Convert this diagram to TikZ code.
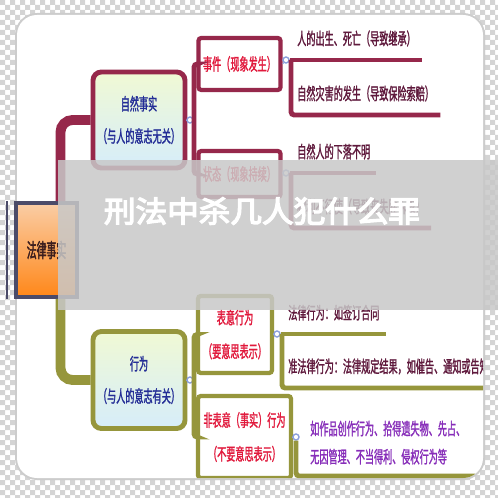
\documentclass[tikz,border=0pt]{standalone}
\usepackage{fontspec}
\newfontfamily\cjk[FakeStretch=0.54,FakeBold=1.3]{Noto Sans CJK SC}
\newfontfamily\cjkroot[FakeStretch=0.5,FakeBold=2]{Noto Sans CJK SC}
\newfontfamily\wmfont[FakeStretch=1.07,FakeBold=4.5]{Noto Sans CJK SC}
\definecolor{natred}{RGB}{150,40,75}
\definecolor{actolive}{RGB}{150,150,60}
\definecolor{boxblue}{RGB}{35,45,150}
\definecolor{boxred}{RGB}{225,25,60}
\definecolor{boxtop}{RGB}{240,249,212}
\definecolor{boxbottom}{RGB}{214,237,250}
\definecolor{leafred}{RGB}{95,25,60}
\definecolor{leafpurple}{RGB}{135,45,185}
\definecolor{hubblue}{RGB}{140,160,220}
\definecolor{rootline}{RGB}{75,75,105}
\definecolor{rootpeach}{RGB}{250,205,165}
\definecolor{rootorange}{RGB}{255,135,25}
\definecolor{roottext}{RGB}{60,30,30}
\definecolor{checkgray}{RGB}{212,212,212}
\definecolor{bandgray}{RGB}{200,200,200}

\tikzset{
  rootbox/.style={draw=rootline, line width=2.5pt, top color=rootpeach, bottom color=rootorange,
    minimum width=1.525cm, minimum height=2.35cm, text=roottext,
    font=\cjkroot\fontsize{14pt}{14pt}\selectfont},
  mainbox/.style={draw=#1, line width=3.5pt, rounded corners=6pt, top color=boxtop, bottom color=boxbottom,
    minimum width=2.3cm, minimum height=2.4cm, align=center, text=boxblue,
    font=\cjk\fontsize{12pt}{23pt}\selectfont},
  subbox/.style={draw=#1, line width=3pt, rounded corners=2pt, fill=white, align=center,
    inner sep=1pt, text=boxred, font=\cjk\fontsize{12pt}{24pt}\selectfont},
  leaf/.style={anchor=south west, inner xsep=0.15cm, inner ysep=0.33cm, text=leafred,
    font=\cjk\fontsize{12pt}{20pt}\selectfont},
  hub/.style={circle, draw=hubblue, fill=white, line width=1pt, inner sep=0pt, minimum size=0.15cm},
  trunk/.style={draw=#1, line width=7pt, rounded corners=0.3cm},
  leafbar/.style={draw=#1, line width=3.5pt, rounded corners=0.08cm},
  twig/.style={draw=hubblue, line width=0.6pt},
  wmtext/.style={text=white, font=\wmfont\fontsize{21pt}{21pt}\selectfont}
}

\begin{document}
\begin{tikzpicture}[x=0.025cm,y=-0.025cm]
\useasboundingbox (0,0) rectangle (498,498);
\foreach \i in {0,10,...,490}
  \foreach \j in {0,10,...,490}
    \fill[checkgray] (\i,\j) rectangle ++(5,5) (\i+5,\j+5) rectangle ++(5,5);
\fill[gray!40, rounded corners=0.55cm] (15,13) rectangle (485,480);
\fill[white, rounded corners=0.5cm] (17,15) rectangle (483,478);

\node[rootbox] (fact) at (46.5,250) {法律事实};
\draw[rootline, line width=2pt] ([xshift=-0.18cm]fact.north west) -- ([xshift=-0.18cm]fact.south west);

\begin{scope}
\clip[rounded corners=0.5cm] (17,15) rectangle (483,478);
\node[mainbox=natred] (nat) at (139,120) {自然事实\\（与人的意志无关）};
\node[mainbox=actolive, minimum height=2.425cm] (act) at (139,380) {行为\\（与人的意志有关）};
\draw[trunk=natred] ([xshift=0.35cm]fact.north) |- (nat.west);
\draw[trunk=actolive] ([xshift=0.35cm]fact.south) |- (act.west);

\node[subbox=natred, minimum width=2.05cm, minimum height=1.3cm] (ev) at (239.5,64) {事件（现象发生）};
\node[subbox=natred, minimum width=2.05cm, minimum height=1.15cm] (st) at (239.5,174) {状态（现象持续）};
\node[subbox=actolive, minimum width=1.85cm, minimum height=1.925cm] (ex) at (235,334.5) {表意行为\\（要意思表示）};
\node[subbox=actolive, minimum width=2.325cm, minimum height=2.05cm] (nx) at (244.5,437) {非表意（事实）行为\\（不要意思表示）};

\node[hub] (h1) at (190,120) {};
\node[hub] (h2) at (190,380) {};
\node[hub] (h3) at (286,60) {};
\node[hub] (h4) at (286,173) {};
\node[hub] (h5) at (277,334) {};
\node[hub] (h6) at (296,437) {};
\coordinate (b1) at (194,120);
\coordinate (b2) at (194,380);

\draw[twig] (nat.east) -- (h1);
\draw[twig] (act.east) -- (h2);
\draw[twig] (ev.east) -- (h3);
\draw[twig] (st.east) -- (h4);
\draw[twig] (ex.east) -- (h5);
\draw[twig] (nx.east) -- (h6);
\draw[leafbar=natred] (ev.west) -| (b1) |- (st.west);
\draw[leafbar=natred] (h1) -- (b1);
\draw[leafbar=actolive] (ex.west) -| (b2) |- (nx.west);
\draw[leafbar=actolive] (h2) -- (b2);

\node[leaf] (e1) at (291,60) {人的出生、死亡（导致继承）};
\node[leaf] (e2) at (291,115) {自然灾害的发生（导致保险索赔）};
\draw[leafbar=natred] (h3) -- (e1.south east);
\draw[leafbar=natred] (e1.south west) |- (e2.south east);

\node[leaf] (s1) at (291,173) {自然人的下落不明};
\node[leaf] (s2) at (291,228) {权利不行使（导致丧失胜诉权）};
\draw[leafbar=natred] (h4) -- (s1.south east);
\draw[leafbar=natred] (s1.south west) |- (s2.south east);

\node[leaf] (x1) at (282,334) {法律行为：如签订合同};
\node[leaf] (x2) at (282,388) {准法律行为：法律规定结果，如催告、通知或告知};
\draw[leafbar=actolive] (h5) -- (x1.south east);
\draw[leafbar=actolive] (x1.south west) |- (x2.south east);

\node[leaf, text=leafpurple, align=left, inner xsep=0.25cm, inner ysep=0.28cm] (n1) at (300,476)
  {如作品创作行为、拾得遗失物、先占、\\无因管理、不当得利、侵权行为等};
\draw[leafbar=actolive] (h6) |- (n1.south east);
\end{scope}

\fill[bandgray, opacity=0.85] (58,160) rectangle (498,310);
\node[wmtext] (wm) at (262,211) {刑法中杀几人犯什么罪};
\end{tikzpicture}
\end{document}
